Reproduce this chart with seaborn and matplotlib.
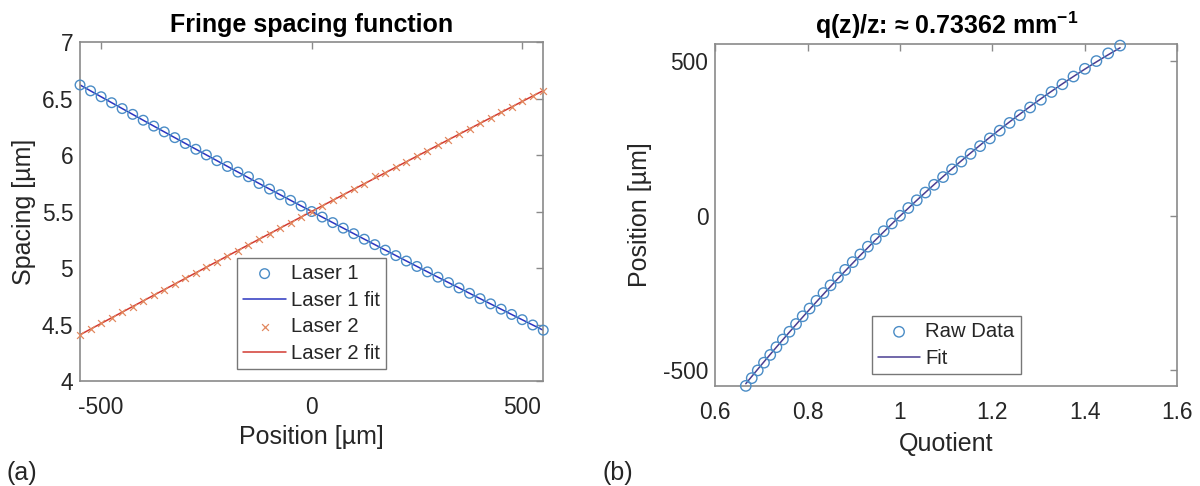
import matplotlib
matplotlib.use("Agg")
import matplotlib.pyplot as plt
import numpy as np
import seaborn as sns

# measurement positions along the probe volume [um]
position = [
    -550, -525, -500, -475, -450, -425, -400, -375, -350, -325, -300, -275,
    -250, -225, -200, -175, -150, -125, -100, -75, -50, -25, 0, 25, 50, 75,
    100, 125, 150, 175, 200, 225, 250, 275, 300, 325, 350, 375, 400, 425,
    450, 475, 500, 525, 550,
]

# fringe spacing of laser 1 [um]
laser1 = [
    6.620, 6.568, 6.516, 6.463, 6.411, 6.360, 6.308, 6.256, 6.205, 6.154,
    6.102, 6.051, 6.001, 5.950, 5.899, 5.849, 5.808, 5.748, 5.699, 5.649,
    5.599, 5.549, 5.500, 5.451, 5.402, 5.353, 5.304, 5.255, 5.207, 5.158,
    5.110, 5.062, 5.014, 4.966, 4.919, 4.871, 4.824, 4.776, 4.729, 4.683,
    4.636, 4.589, 4.543, 4.496, 4.450,
]

# fringe spacing of laser 2 [um]
laser2 = [
    4.410, 4.460, 4.510, 4.560, 4.610, 4.659, 4.709, 4.759, 4.809, 4.858,
    4.908, 4.957, 5.007, 5.056, 5.106, 5.155, 5.205, 5.254, 5.303, 5.353,
    5.402, 5.451, 5.500, 5.549, 5.598, 5.647, 5.696, 5.745, 5.812, 5.843,
    5.891, 5.940, 5.989, 6.038, 6.086, 6.135, 6.183, 6.232, 6.280, 6.329,
    6.377, 6.426, 6.474, 6.522, 6.570,
]

# quotient laser2 / laser1
quotient = [
    0.6662, 0.6791, 0.6921, 0.7056, 0.7191, 0.7325, 0.7465, 0.7607, 0.7750,
    0.7894, 0.8043, 0.8192, 0.8344, 0.8497, 0.8656, 0.8813, 0.8976, 0.9141,
    0.9305, 0.9476, 0.9648, 0.9823, 1.0000, 1.0180, 1.0363, 1.0549, 1.0739,
    1.0932, 1.1127, 1.1328, 1.1528, 1.1734, 1.1945, 1.2159, 1.2372, 1.2595,
    1.2817, 1.3049, 1.3280, 1.3515, 1.3755, 1.4003, 1.4251, 1.4506, 1.4764,
]

a_xticks = [-500, 0, 500]
a_xticklabels = ["-500", "0", "500"]
a_yticks = [4, 4.5, 5, 5.5, 6, 6.5, 7]
a_yticklabels = ["4", "4.5", "5", "5.5", "6", "6.5", "7"]
b_xticks = [0.6, 0.8, 1.0, 1.2, 1.4, 1.6]
b_xticklabels = ["0.6", "0.8", "1", "1.2", "1.4", "1.6"]
b_yticks = [-500, 0, 500]
b_yticklabels = ["-500", "0", "500"]

C_L1 = "#4a8cc6"
C_L1FIT = "#2b35c0"
C_L2 = "#e2885f"
C_L2FIT = "#d23a32"
C_FIT = "#4a3f92"
C_AX = "#8a8a8a"
C_TXT = "#262626"

sns.set_style("white")
plt.rcParams["font.family"] = ["Liberation Sans", "DejaVu Sans"]
plt.rcParams["axes.unicode_minus"] = False
plt.rcParams["mathtext.fontset"] = "custom"
plt.rcParams["mathtext.rm"] = "Liberation Sans"
plt.rcParams["mathtext.bf"] = "Liberation Sans:bold"

TICK_FS = 16.4
LABEL_FS = 18
TITLE_FS = 18
LEG_FS = 14.6


def style_axes(ax):
    for sp in ax.spines.values():
        sp.set_visible(True)
        sp.set_color(C_AX)
        sp.set_linewidth(1.2)
    ax.tick_params(direction="in", length=5, width=1, color=C_AX,
                   top=True, right=True, labelsize=TICK_FS, labelcolor=C_TXT)
    ax.tick_params(axis="x", pad=11)
    ax.tick_params(axis="y", pad=5)


def add_legend(ax, names):
    h, l = ax.get_legend_handles_labels()
    order = [l.index(k) for k in names if k in l]
    leg = ax.legend([h[i] for i in order], [l[i] for i in order], loc="lower center",
                    bbox_to_anchor=(0.5, 0.035), fontsize=LEG_FS, frameon=True,
                    fancybox=False, edgecolor="#555555", handlelength=2.1,
                    handletextpad=0.25, labelspacing=0.38, borderpad=0.3,
                    borderaxespad=0)
    leg.get_frame().set_linewidth(1.0)
    return leg


fig = plt.figure(figsize=(12, 4.86), dpi=100)
ax1 = fig.add_axes([0.0667, 0.216, 0.386, 0.6975])
ax2 = fig.add_axes([0.596, 0.206, 0.385, 0.704])

# (a) fringe spacing
sns.scatterplot(x=position, y=laser1, marker="o", s=48, facecolor="none",
                edgecolor=C_L1, linewidth=1.0, label="Laser 1", ax=ax1,
                zorder=3, clip_on=False)
sns.regplot(x=position, y=laser1, order=2, ci=None, scatter=False, label="Laser 1 fit",
            line_kws={"color": C_L1FIT, "lw": 1.1}, ax=ax1)
sns.scatterplot(x=position, y=laser2, marker="x", s=24, color=C_L2,
                linewidth=0.9, label="Laser 2", ax=ax1, zorder=3, clip_on=False)
sns.regplot(x=position, y=laser2, order=2, ci=None, scatter=False, label="Laser 2 fit",
            line_kws={"color": C_L2FIT, "lw": 1.1}, ax=ax1)

ax1.set_xlim(-550, 550)
ax1.set_ylim(4, 7)
ax1.set_xticks(a_xticks, a_xticklabels)
ax1.set_yticks(a_yticks, a_yticklabels)
ax1.set_xlabel("Position [µm]", fontsize=LABEL_FS, color=C_TXT, labelpad=4)
ax1.set_ylabel("Spacing [µm]", fontsize=LABEL_FS, color=C_TXT, labelpad=4)
ax1.set_title("Fringe spacing function", fontsize=TITLE_FS, fontweight="bold",
              color="black", pad=7)
style_axes(ax1)
add_legend(ax1, ["Laser 1", "Laser 1 fit", "Laser 2", "Laser 2 fit"])

# (b) position versus quotient
sns.scatterplot(x=quotient, y=position, marker="o", s=56, facecolor="none",
                edgecolor=C_L1, linewidth=1.0, label="Raw Data", ax=ax2,
                zorder=3, clip_on=False)
sns.regplot(x=quotient, y=position, order=2, ci=None, scatter=False, label="Fit",
            line_kws={"color": C_FIT, "lw": 1.1}, ax=ax2)
ax2.set_xlim(0.6, 1.6)
ax2.set_ylim(-550, 556)
ax2.set_xticks(b_xticks, b_xticklabels)
ax2.set_yticks(b_yticks, b_yticklabels)
ax2.set_xlabel("Quotient", fontsize=LABEL_FS, color=C_TXT, labelpad=6)
ax2.set_ylabel("Position [µm]", fontsize=LABEL_FS, color=C_TXT, labelpad=8)
ax2.set_title("q(z)/z: ≈ 0.73362 mm$^{\\mathbf{-1}}$", fontsize=TITLE_FS,
              fontweight="bold", color="black", pad=7)
style_axes(ax2)
add_legend(ax2, ["Raw Data", "Fit"])

fig.text(0.005, 0.027, "(a)", fontsize=18, color=C_TXT, va="center", ha="left")
fig.text(0.5025, 0.027, "(b)", fontsize=18, color=C_TXT, va="center", ha="left")

fig.savefig("out.png", dpi=100, facecolor="white")
